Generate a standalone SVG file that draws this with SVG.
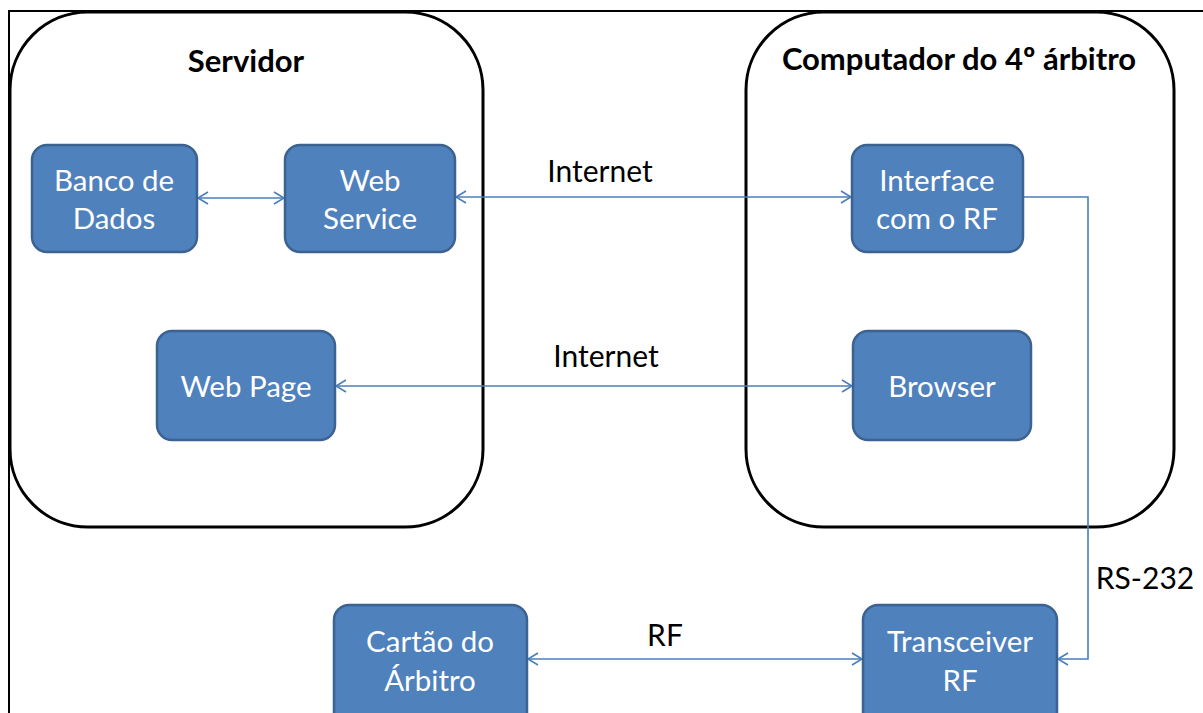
<svg xmlns="http://www.w3.org/2000/svg" width="1203" height="713" viewBox="0 0 1203 713">
<style>
.container{fill:#fff;stroke:#000;stroke-width:3}
.box{fill:#4F81BD;stroke:#3B6290;stroke-width:2.5}
.bt{font-family:Lato,"Liberation Sans",sans-serif;font-size:29.5px;fill:#fff;text-anchor:middle}
.title{font-family:Lato,"Liberation Sans",sans-serif;font-size:31px;font-weight:bold;fill:#000;text-anchor:middle}
.lbl{font-family:Lato,"Liberation Sans",sans-serif;font-size:30px;fill:#000;text-anchor:middle}
.conn{fill:none;stroke:#4A7EBB;stroke-width:1.6}
</style>
<defs>
<marker id="ah" markerWidth="14" markerHeight="14" refX="12" refY="7" orient="auto-start-reverse" markerUnits="userSpaceOnUse">
<path d="M2,1 L12,7 L2,13" fill="none" stroke="#4A7EBB" stroke-width="1.6"/>
</marker>
</defs>
<rect width="1203" height="713" fill="#fff"/>
<path d="M9,713 V11 H1203" fill="none" stroke="#000" stroke-width="2"/>
<g id="servidor">
<rect class="container" x="10" y="12" width="473" height="515" rx="78" ry="78"/>
<text class="title" x="246" y="72">Servidor</text>
</g>
<g id="computador">
<rect class="container" x="746" y="12" width="428" height="515" rx="78" ry="78"/>
<text class="title" x="959" y="70">Computador do 4º árbitro</text>
</g>
<g id="connectors">
<line class="conn" x1="198" y1="198" x2="284" y2="198" marker-start="url(#ah)" marker-end="url(#ah)"/>
<line class="conn" x1="456" y1="197" x2="851" y2="197" marker-start="url(#ah)" marker-end="url(#ah)"/>
<line class="conn" x1="336" y1="386" x2="852" y2="386" marker-start="url(#ah)" marker-end="url(#ah)"/>
<polyline class="conn" points="1024,197 1088,197 1088,659 1058,659" marker-end="url(#ah)"/>
<line class="conn" x1="528" y1="659" x2="862" y2="659" marker-start="url(#ah)" marker-end="url(#ah)"/>
<text class="lbl" x="600" y="182">Internet</text>
<text class="lbl" x="606" y="367">Internet</text>
<text class="lbl" x="1145" y="589">RS-232</text>
<text class="lbl" x="665" y="646">RF</text>
</g>
<g id="banco">
<rect class="box" x="32" y="145" width="165" height="107" rx="15"/>
<text class="bt" x="114" y="191">Banco de</text>
<text class="bt" x="114" y="229">Dados</text>
</g>
<g id="webservice">
<rect class="box" x="285" y="145" width="170" height="107" rx="15"/>
<text class="bt" x="370" y="191">Web</text>
<text class="bt" x="370" y="229">Service</text>
</g>
<g id="interface">
<rect class="box" x="852" y="145" width="171" height="107" rx="15"/>
<text class="bt" x="937" y="191">Interface</text>
<text class="bt" x="937" y="229">com o RF</text>
</g>
<g id="webpage">
<rect class="box" x="157" y="331" width="178" height="109" rx="15"/>
<text class="bt" x="246" y="397">Web Page</text>
</g>
<g id="browser">
<rect class="box" x="853" y="331" width="178" height="109" rx="15"/>
<text class="bt" x="942" y="397">Browser</text>
</g>
<g id="cartao">
<rect class="box" x="334" y="605" width="193" height="125" rx="15"/>
<text class="bt" x="430" y="652">Cartão do</text>
<text class="bt" x="430" y="691">Árbitro</text>
</g>
<g id="transceiver">
<rect class="box" x="863" y="605" width="194" height="125" rx="15"/>
<text class="bt" x="960" y="652">Transceiver</text>
<text class="bt" x="960" y="691">RF</text>
</g>
</svg>
